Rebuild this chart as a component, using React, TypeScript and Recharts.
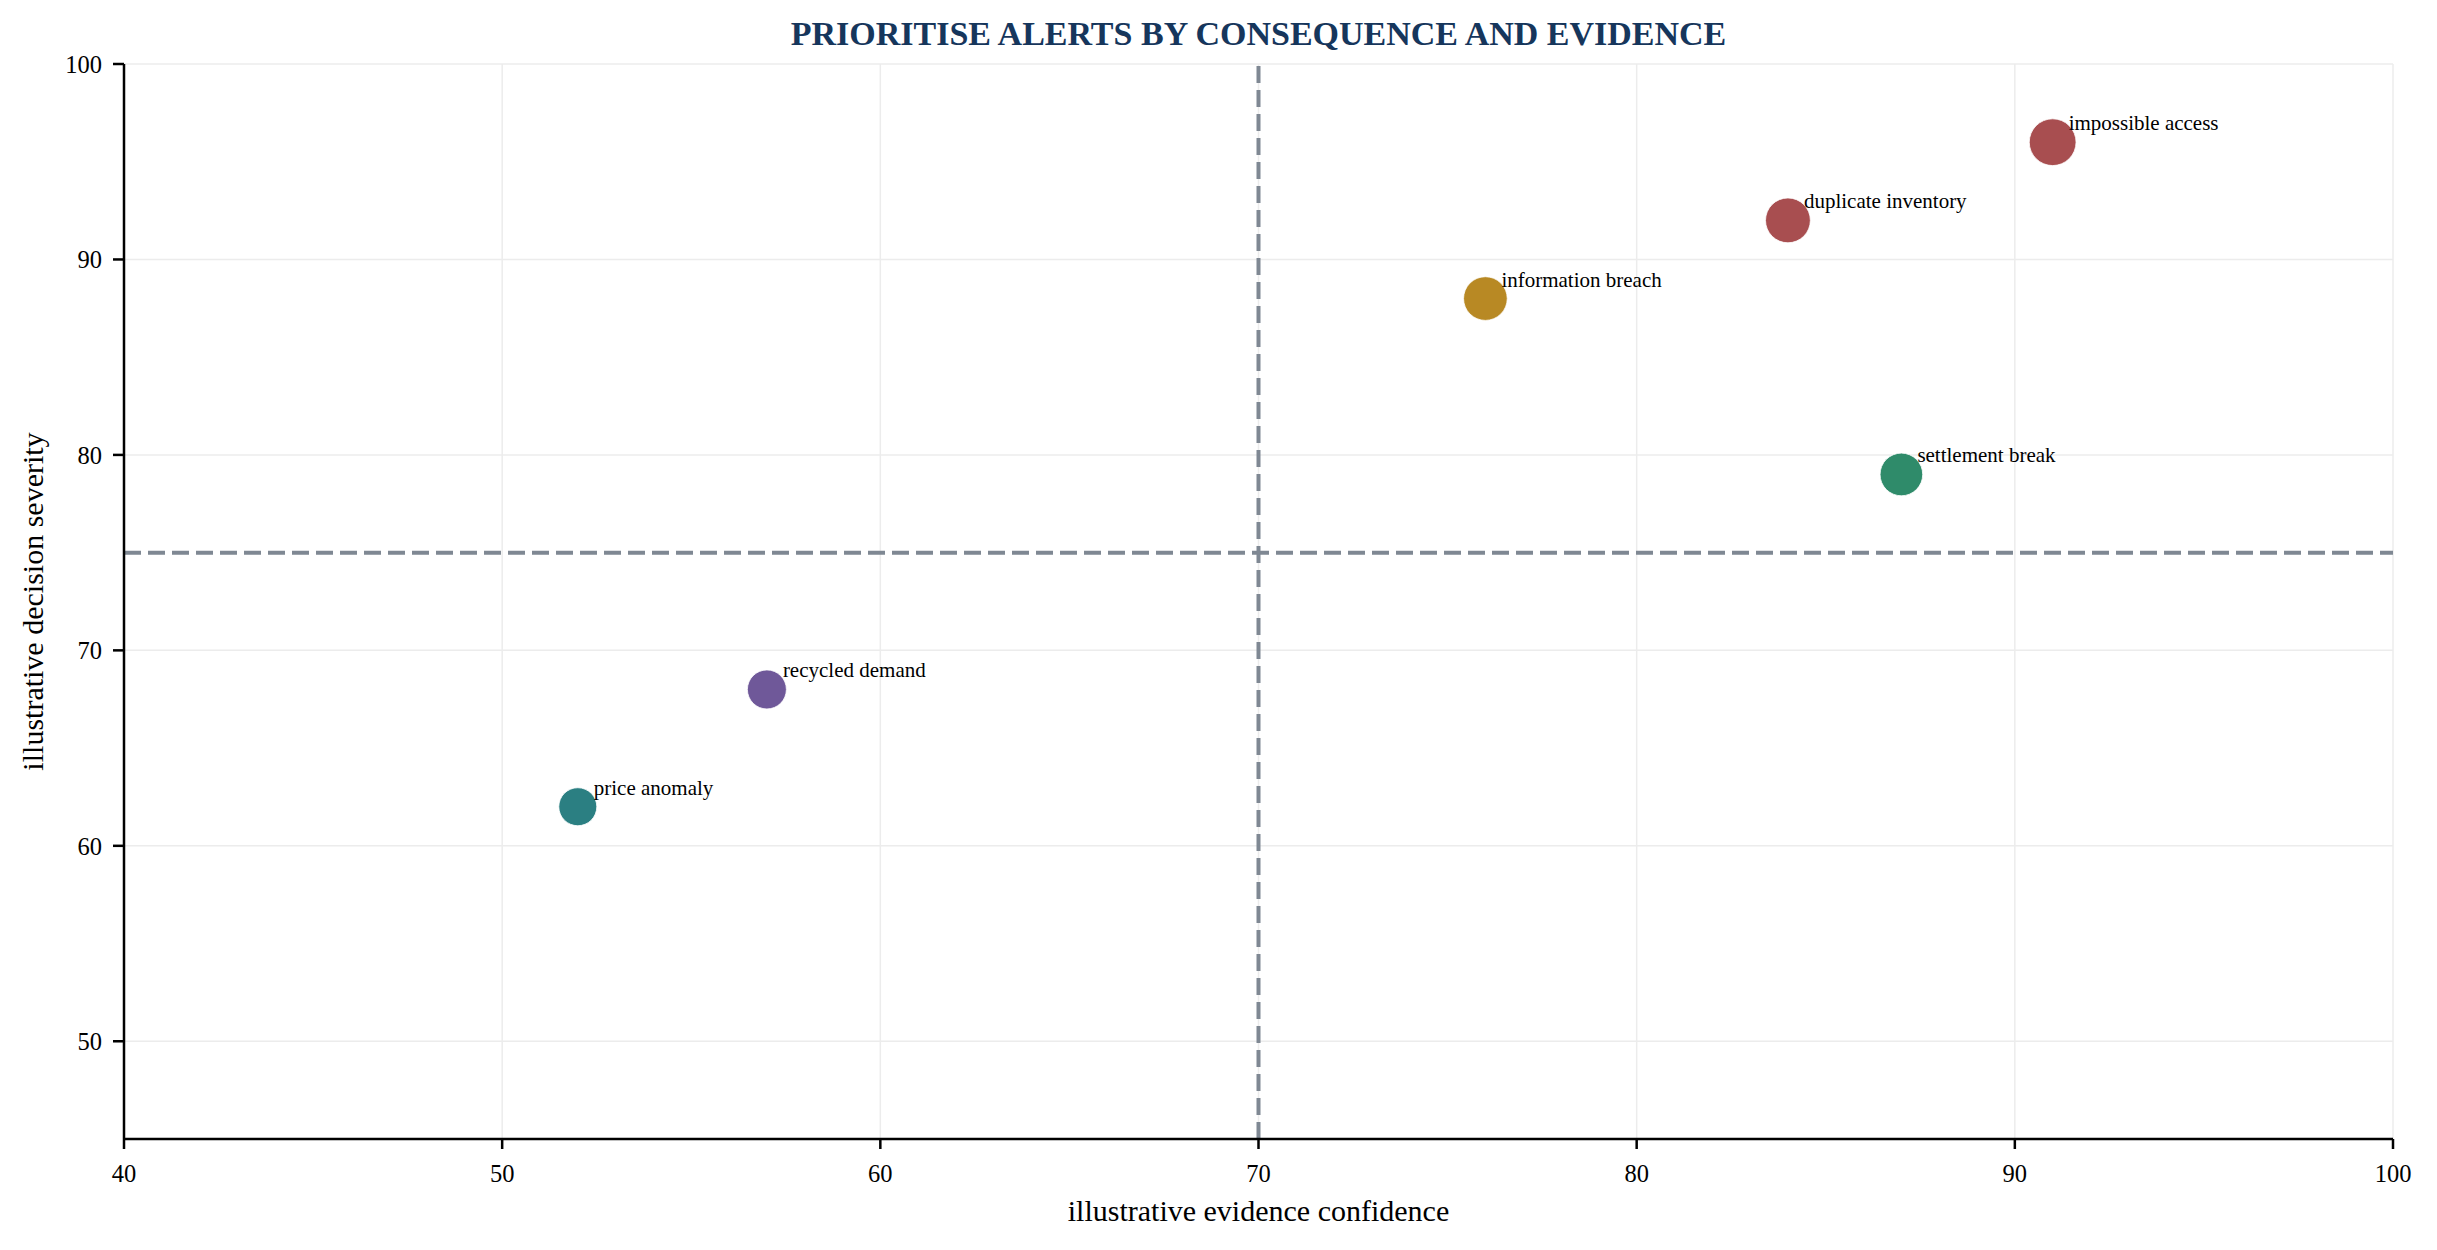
import React from 'react';
import {
  ScatterChart,
  Scatter,
  XAxis,
  YAxis,
  ZAxis,
  CartesianGrid,
  ReferenceLine,
  Label,
} from 'recharts';

const alertNames = [
  'impossible access',
  'duplicate inventory',
  'information breach',
  'settlement break',
  'recycled demand',
  'price anomaly',
];
const evidenceConfidence = [91, 84, 76, 87, 57, 52];
const decisionSeverity = [96, 92, 88, 79, 68, 62];
const markerArea = [1720, 1580, 1500, 1430, 1195, 1135];
const markerColors = ['#a84e50', '#a84e50', '#b88924', '#2f8b6a', '#6f5899', '#2b7f82'];

const xTicks = [40, 50, 60, 70, 80, 90, 100];
const yTicks = [50, 60, 70, 80, 90, 100];
const confidenceThreshold = 70;
const severityThreshold = 75;

const chartTitle = 'PRIORITISE ALERTS BY CONSEQUENCE AND EVIDENCE';
const xLabel = 'illustrative evidence confidence';
const yLabel = 'illustrative decision severity';

const W = 2437;
const H = 1250;
const FONT = '"Liberation Serif", "Times New Roman", serif';

const points = alertNames.map((name, i) => ({
  name,
  x: evidenceConfidence[i],
  y: decisionSeverity[i],
  z: markerArea[i],
  color: markerColors[i],
}));

const PointShape = (props: any) => {
  const { cx, cy, width, payload } = props;
  const r = width / 2;
  return (
    <g>
      <circle cx={cx} cy={cy} r={r} fill={payload.color} stroke="#ffffff" strokeWidth={0.8} />
      <text
        x={cx + 16}
        y={cy - 12}
        fontFamily={FONT}
        fontSize={21}
        fill="#000000"
      >
        {payload.name}
      </text>
    </g>
  );
};

export default function App() {
  return (
    <div style={{ position: 'absolute', left: 0, top: 0, width: W, height: H, background: '#ffffff' }}>
      <svg
        width={W}
        height={60}
        style={{ position: 'absolute', left: 0, top: 0, pointerEvents: 'none' }}
      >
        <text
          x={1258.5}
          y={45}
          textAnchor="middle"
          fontFamily={FONT}
          fontWeight="bold"
          fontSize={34}
          fill="#16365c"
        >
          {chartTitle}
        </text>
      </svg>
      <ScatterChart
        width={W}
        height={H}
        margin={{ top: 64, right: 44, bottom: 0, left: 0 }}
      >
        <CartesianGrid stroke="#ececec" strokeWidth={1.5} />
        <XAxis
          type="number"
          dataKey="x"
          domain={[40, 100]}
          ticks={xTicks}
          allowDataOverflow
          height={111}
          tickSize={10}
          tickMargin={16}
          axisLine={{ stroke: '#000000', strokeWidth: 2.5 }}
          tickLine={{ stroke: '#000000', strokeWidth: 2.5 }}
          tick={{ fontFamily: FONT, fontSize: 24.5, fill: '#000000' }}
        >
          <Label
            content={(p: any) => {
              const vb = p.viewBox;
              return (
                <text
                  x={vb.x + vb.width / 2}
                  y={vb.y + 82}
                  textAnchor="middle"
                  fontFamily={FONT}
                  fontSize={30}
                  fill="#000000"
                >
                  {xLabel}
                </text>
              );
            }}
          />
        </XAxis>
        <YAxis
          type="number"
          dataKey="y"
          domain={[45, 100]}
          ticks={yTicks}
          allowDataOverflow
          width={124}
          tickSize={11}
          tickMargin={11}
          axisLine={{ stroke: '#000000', strokeWidth: 2.5 }}
          tickLine={{ stroke: '#000000', strokeWidth: 2.5 }}
          tick={{ fontFamily: FONT, fontSize: 24.5, fill: '#000000' }}
        >
          <Label
            content={(p: any) => {
              const vb = p.viewBox;
              const cy = vb.y + vb.height / 2;
              return (
                <text
                  x={32}
                  y={cy}
                  transform={`rotate(-90 32 ${cy})`}
                  textAnchor="middle"
                  dominantBaseline="central"
                  fontFamily={FONT}
                  fontSize={30}
                  fill="#000000"
                >
                  {yLabel}
                </text>
              );
            }}
          />
        </YAxis>
        <ZAxis type="number" dataKey="z" domain={[0, 2000]} range={[0, 2000]} />
        <ReferenceLine
          x={confidenceThreshold}
          stroke="#7f8893"
          strokeWidth={4}
          strokeDasharray="17 7"
        />
        <ReferenceLine
          y={severityThreshold}
          stroke="#7f8893"
          strokeWidth={4}
          strokeDasharray="17 7"
        />
        <Scatter data={points} isAnimationActive={false} shape={PointShape} />
      </ScatterChart>
    </div>
  );
}
